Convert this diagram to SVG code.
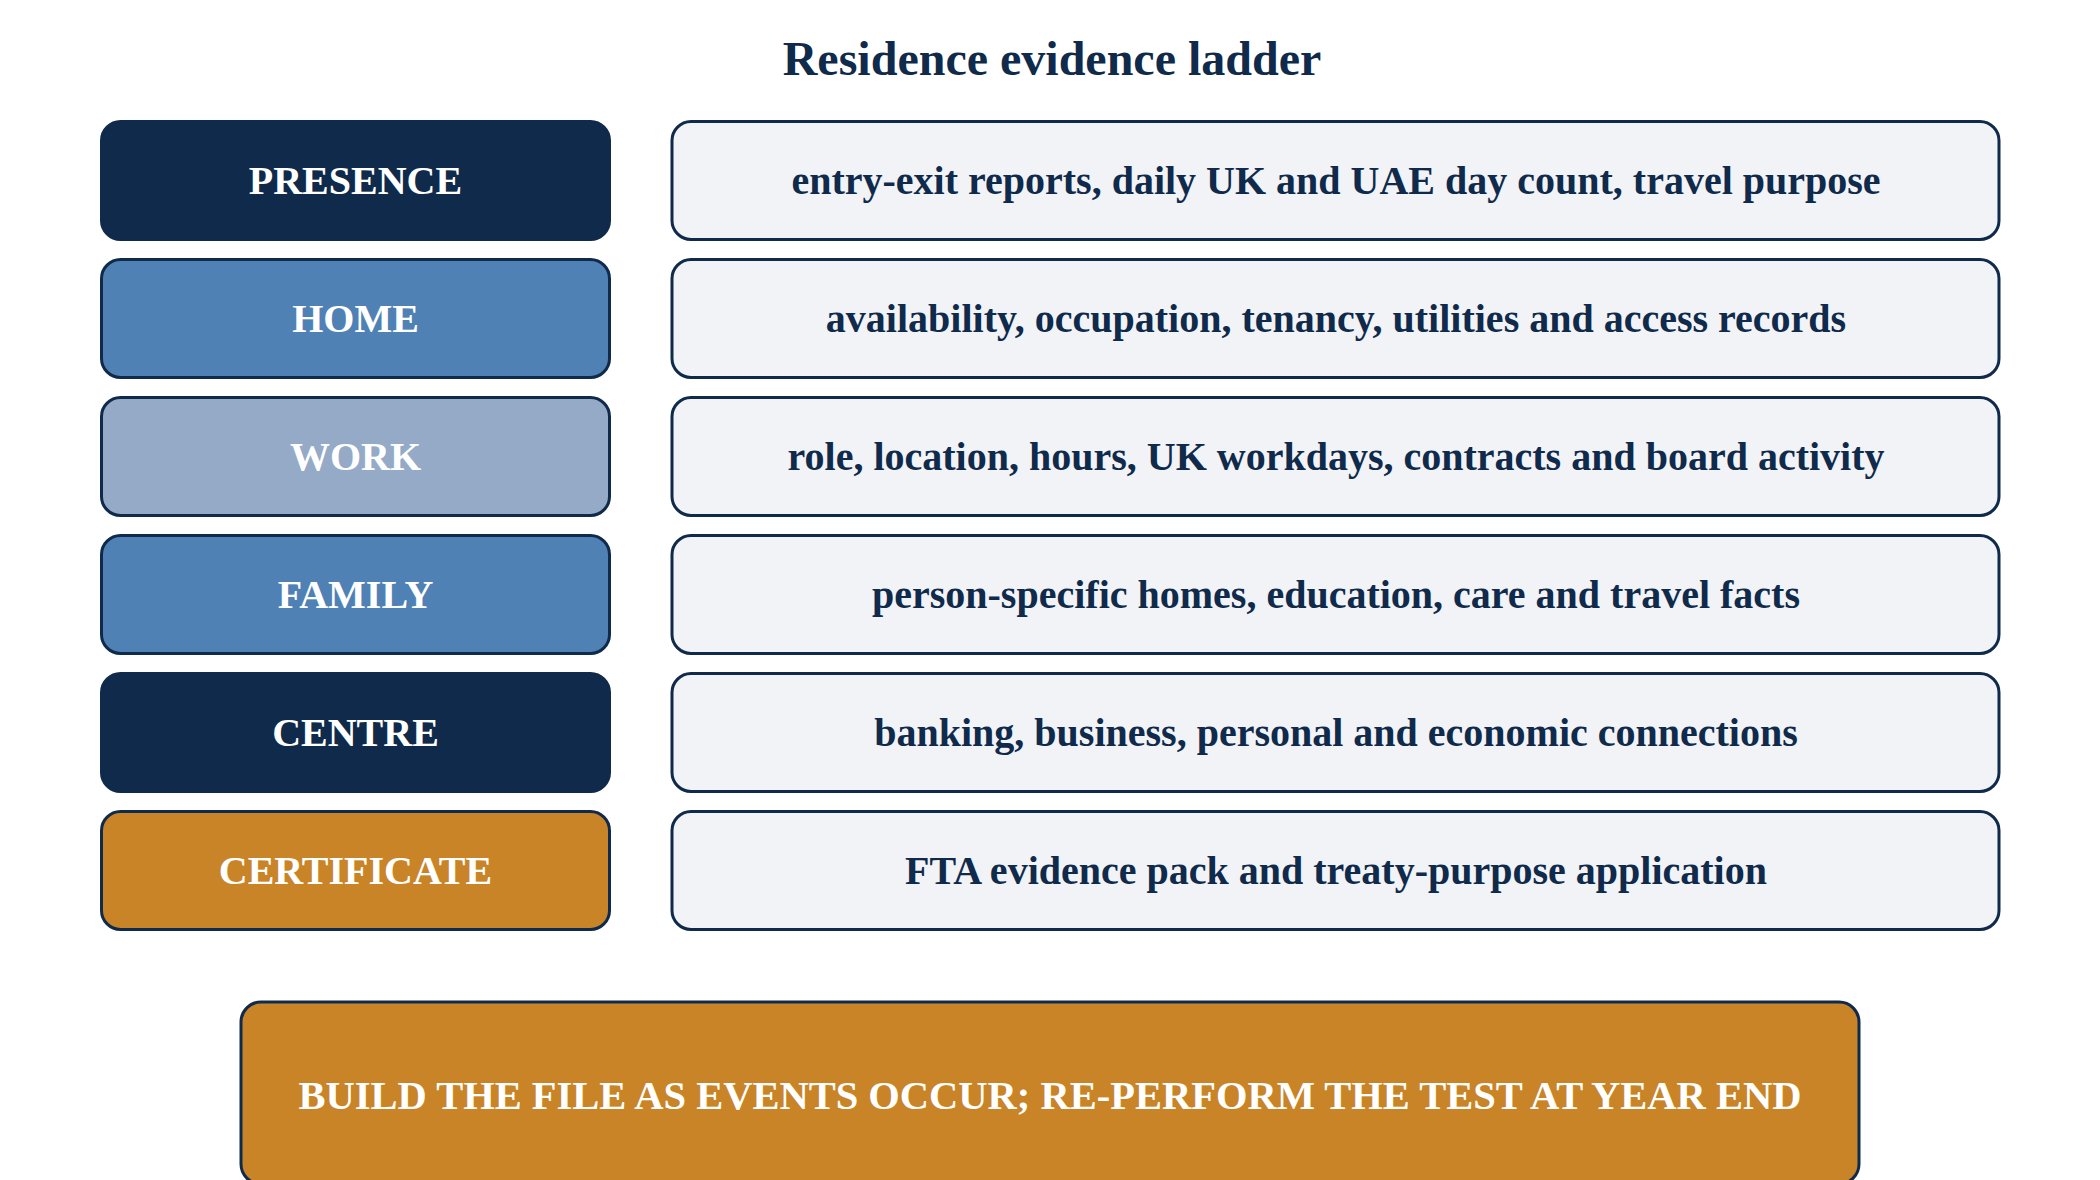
<svg xmlns="http://www.w3.org/2000/svg" width="2100" height="1180" viewBox="0 0 2100 1180">
<style>
.t{font-family:"Liberation Serif","Times New Roman",serif;font-weight:bold;font-size:40px;text-anchor:middle}
.title{font-family:"Liberation Serif","Times New Roman",serif;font-weight:bold;font-size:48px;text-anchor:middle;fill:#0f2a4a}
.lbl{fill:#ffffff}
.dsc{fill:#0f2a4a}
.box{stroke:#0f2a4a;stroke-width:3}
.navy{fill:#0f2a4a}
.blue{fill:#4f81b5}
.steel{fill:#94aac7}
.orange{fill:#c98428}
.light{fill:#f1f3f7}
</style>
<rect width="2100" height="1180" fill="#ffffff"/>
<text class="title" x="1052" y="75">Residence evidence ladder</text>
<g id="presence">
<rect class="box navy" x="101.5" y="121.5" width="508" height="118" rx="19"/>
<text class="t lbl" x="355.5" y="194">PRESENCE</text>
</g>
<g id="presence-evidence">
<rect class="box light" x="672" y="121.5" width="1327" height="118" rx="19"/>
<text class="t dsc" x="1336" y="194">entry-exit reports, daily UK and UAE day count, travel purpose</text>
</g>
<g id="home">
<rect class="box blue" x="101.5" y="259.5" width="508" height="118" rx="19"/>
<text class="t lbl" x="355.5" y="332">HOME</text>
</g>
<g id="home-evidence">
<rect class="box light" x="672" y="259.5" width="1327" height="118" rx="19"/>
<text class="t dsc" x="1336" y="332">availability, occupation, tenancy, utilities and access records</text>
</g>
<g id="work">
<rect class="box steel" x="101.5" y="397.5" width="508" height="118" rx="19"/>
<text class="t lbl" x="355.5" y="470">WORK</text>
</g>
<g id="work-evidence">
<rect class="box light" x="672" y="397.5" width="1327" height="118" rx="19"/>
<text class="t dsc" x="1336" y="470">role, location, hours, UK workdays, contracts and board activity</text>
</g>
<g id="family">
<rect class="box blue" x="101.5" y="535.5" width="508" height="118" rx="19"/>
<text class="t lbl" x="355.5" y="608">FAMILY</text>
</g>
<g id="family-evidence">
<rect class="box light" x="672" y="535.5" width="1327" height="118" rx="19"/>
<text class="t dsc" x="1336" y="608">person-specific homes, education, care and travel facts</text>
</g>
<g id="centre">
<rect class="box navy" x="101.5" y="673.5" width="508" height="118" rx="19"/>
<text class="t lbl" x="355.5" y="746">CENTRE</text>
</g>
<g id="centre-evidence">
<rect class="box light" x="672" y="673.5" width="1327" height="118" rx="19"/>
<text class="t dsc" x="1336" y="746">banking, business, personal and economic connections</text>
</g>
<g id="certificate">
<rect class="box orange" x="101.5" y="811.5" width="508" height="118" rx="19"/>
<text class="t lbl" x="355.5" y="884">CERTIFICATE</text>
</g>
<g id="certificate-evidence">
<rect class="box light" x="672" y="811.5" width="1327" height="118" rx="19"/>
<text class="t dsc" x="1336" y="884">FTA evidence pack and treaty-purpose application</text>
</g>
<g id="summary">
<rect class="box orange" x="241" y="1002" width="1618" height="182" rx="20"/>
<text class="t lbl" x="1050" y="1109" style="font-size:40.5px">BUILD THE FILE AS EVENTS OCCUR; RE-PERFORM THE TEST AT YEAR END</text>
</g>
<g id="connectors"></g>
</svg>
